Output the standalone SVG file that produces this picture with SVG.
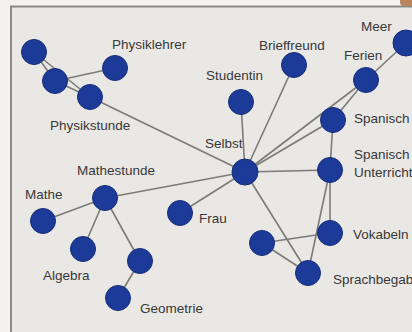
<svg xmlns="http://www.w3.org/2000/svg" width="412" height="332" viewBox="0 0 412 332">
  <style>
    .edge { stroke: #7d7b78; stroke-width: 1.6; fill: none; stroke-linecap: round; }
    .node circle { fill: #1c3a98; stroke: #152d78; stroke-width: 1; }
    text { font-family: "Liberation Sans", Arial, sans-serif; font-size: 13.5px; fill: #383838; }
  </style>
  <!-- page margin and framed panel -->
  <rect x="0" y="0" width="412" height="332" fill="#f3f2f1"/>
  <rect x="11" y="6.5" width="410" height="340" fill="#eae8e5" stroke="#8b8a88" stroke-width="2"/>
  <path d="M400 0 H412 V6 H404 Q400 6 400 2 Z" fill="#b9855d"/>

  <g id="connectors">
    <line class="edge" x1="34" y1="52" x2="55" y2="81"/>
    <line class="edge" x1="34" y1="52" x2="90" y2="97"/>
    <line class="edge" x1="55" y1="81" x2="90" y2="97"/>
    <line class="edge" x1="55" y1="81" x2="115" y2="68"/>
    <line class="edge" x1="90" y1="97" x2="245" y2="172"/>
    <line class="edge" x1="241" y1="102" x2="245" y2="172"/>
    <line class="edge" x1="294" y1="65" x2="245" y2="172"/>
    <line class="edge" x1="366" y1="80" x2="245" y2="172"/>
    <line class="edge" x1="406" y1="43" x2="366" y2="80"/>
    <line class="edge" x1="366" y1="80" x2="333" y2="120"/>
    <line class="edge" x1="333" y1="120" x2="245" y2="172"/>
    <line class="edge" x1="333" y1="120" x2="330" y2="170"/>
    <line class="edge" x1="330" y1="170" x2="245" y2="172"/>
    <line class="edge" x1="330" y1="170" x2="330" y2="233"/>
    <line class="edge" x1="330" y1="170" x2="308" y2="273"/>
    <line class="edge" x1="245" y1="172" x2="308" y2="273"/>
    <line class="edge" x1="262" y1="243" x2="330" y2="233"/>
    <line class="edge" x1="262" y1="243" x2="308" y2="273"/>
    <line class="edge" x1="105" y1="198" x2="245" y2="172"/>
    <line class="edge" x1="180" y1="213" x2="245" y2="172"/>
    <line class="edge" x1="43" y1="221" x2="105" y2="198"/>
    <line class="edge" x1="105" y1="198" x2="83" y2="249"/>
    <line class="edge" x1="105" y1="198" x2="140" y2="261"/>
    <line class="edge" x1="140" y1="261" x2="118" y2="298"/>
  </g>

  <g id="physik-a" class="node"><circle cx="34" cy="52" r="12.5"/></g>
  <g id="physik-b" class="node"><circle cx="55" cy="81" r="12.5"/></g>
  <g id="physikstunde" class="node"><circle cx="90" cy="97" r="12.5"/><text x="50" y="130">Physikstunde</text></g>
  <g id="physiklehrer" class="node"><circle cx="115" cy="68" r="12.5"/><text x="112" y="48.5">Physiklehrer</text></g>
  <g id="studentin" class="node"><circle cx="241" cy="102" r="12.5"/><text x="206" y="80">Studentin</text></g>
  <g id="brieffreund" class="node"><circle cx="294" cy="65" r="12.5"/><text x="259" y="50">Brieffreund</text></g>
  <g id="ferien" class="node"><circle cx="366" cy="80" r="12.5"/><text x="344" y="60">Ferien</text></g>
  <g id="meer" class="node"><circle cx="406" cy="43" r="13"/><text x="361" y="31">Meer</text></g>
  <g id="spanisch" class="node"><circle cx="333" cy="120" r="12.5"/><text x="354" y="123">Spanisch</text></g>
  <g id="spanischunterricht" class="node"><circle cx="330" cy="170" r="12.5"/><text x="354" y="159">Spanisch</text><text x="354" y="177">Unterricht</text></g>
  <g id="selbst" class="node"><circle cx="245" cy="172" r="13"/><text x="205" y="148">Selbst</text></g>
  <g id="mathestunde" class="node"><circle cx="105" cy="198" r="12.5"/><text x="77" y="175">Mathestunde</text></g>
  <g id="mathe" class="node"><circle cx="43" cy="221" r="12.5"/><text x="25" y="199">Mathe</text></g>
  <g id="algebra" class="node"><circle cx="83" cy="249" r="12.5"/><text x="43" y="280">Algebra</text></g>
  <g id="geometrie-parent" class="node"><circle cx="140" cy="261" r="12.5"/></g>
  <g id="geometrie" class="node"><circle cx="118" cy="298" r="12.5"/><text x="140" y="313">Geometrie</text></g>
  <g id="frau" class="node"><circle cx="180" cy="213" r="12.5"/><text x="199" y="223">Frau</text></g>
  <g id="sprach-a" class="node"><circle cx="262" cy="243" r="12.5"/></g>
  <g id="vokabeln" class="node"><circle cx="330" cy="233" r="12.5"/><text x="353" y="239">Vokabeln</text></g>
  <g id="sprachbegabung" class="node"><circle cx="308" cy="273" r="12.5"/><text x="333" y="284">Sprachbegab</text></g>
</svg>
